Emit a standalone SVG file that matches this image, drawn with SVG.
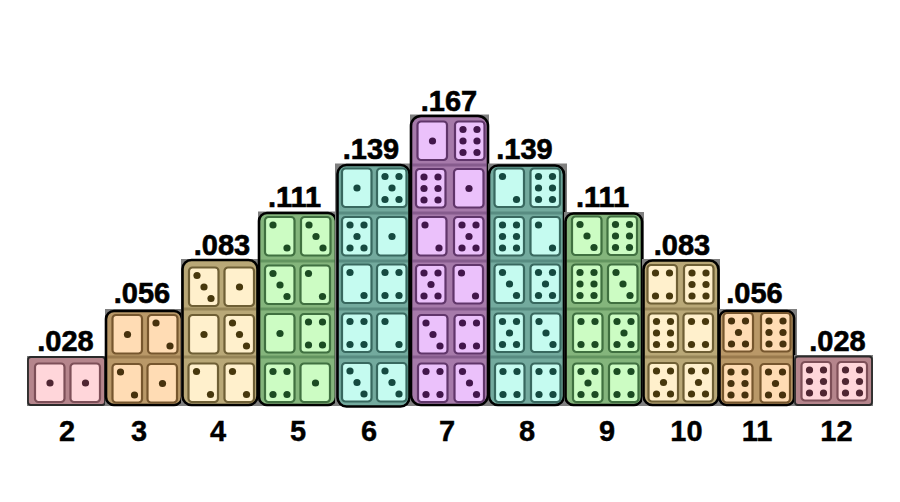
<svg xmlns="http://www.w3.org/2000/svg" width="900" height="502" viewBox="0 0 900 502">
<style>
.pink{--bg:#b5858c;--die:#ffd6da;--st:#7d5058;--pip:#4f2631}
.orange{--bg:#b99868;--die:#ffdcb4;--st:#76572f;--pip:#46300f}
.tan{--bg:#b9a877;--die:#fff0cc;--st:#6e5e35;--pip:#47380f}
.green{--bg:#84b57c;--die:#ccfcc3;--st:#3f6f40;--pip:#1c4b24}
.teal{--bg:#73aa9e;--die:#c5fbf0;--st:#38685f;--pip:#124a40}
.purple{--bg:#a67aaa;--die:#ebc1fb;--st:#60366a;--pip:#42184c}
.back{fill:#7f7f7f}
.body{fill:var(--bg);stroke:#000;stroke-width:2.6}
.thin{stroke:#2a2a2a;stroke-width:1.8}
.sep{stroke:var(--st);stroke-opacity:.45;stroke-width:3}
.b{fill:var(--die);stroke:var(--st);stroke-width:2.2}
.p{fill:var(--pip)}
.soft{filter:url(#soft)}
text{font-family:"Liberation Sans",Arial,sans-serif;font-weight:700;fill:#000;text-anchor:middle}
.pr{font-size:29px;stroke:#000;stroke-width:.6}
.ax{font-size:29px;stroke:#000;stroke-width:.4}
</style>
<defs>
<filter id="soft" x="-5%" y="-5%" width="110%" height="110%"><feGaussianBlur stdDeviation="0.7"/></filter>
<rect id="b" class="b" x="0" y="0" width="29.5" height="38.5" rx="3.5"/>
<g id="f1"><use href="#b"/><circle class="p" cx="15" cy="19.5" r="3.6"/></g>
<g id="f2"><use href="#b"/><circle class="p" cx="8" cy="8" r="3.6"/><circle class="p" cx="22" cy="31" r="3.6"/></g>
<g id="f3"><use href="#f2"/><circle class="p" cx="15" cy="19.5" r="3.6"/></g>
<g id="f4"><use href="#f2"/><circle class="p" cx="22" cy="8" r="3.6"/><circle class="p" cx="8" cy="31" r="3.6"/></g>
<g id="f5"><use href="#f4"/><circle class="p" cx="15" cy="19.5" r="3.6"/></g>
<g id="f6"><use href="#f4"/><circle class="p" cx="8" cy="19.5" r="3.6"/><circle class="p" cx="22" cy="19.5" r="3.6"/></g>
</defs>
<rect width="900" height="502" fill="#fff"/>
<g id="connectors"/>

<g id="col-2" class="pink"><rect class="back" x="27" y="356" width="79" height="50"/>
<g class="soft"><rect class="body thin" x="28" y="357" width="77" height="48" rx="3"/>
<use href="#f1" x="35" y="363.5"/><use href="#f1" x="70.5" y="363.5"/></g>
<text class="pr" x="65.500" y="351">.028</text><text class="ax" x="67" y="441">2</text></g>

<g id="col-3" class="orange"><rect class="back" x="105" y="309" width="78" height="97"/>
<g class="soft"><rect class="body" x="106" y="311" width="76" height="94" rx="8"/>
<line class="sep" x1="107" y1="357" x2="181" y2="357"/>
<use href="#f1" x="112.5" y="315"/><use href="#f2" x="148" y="315"/>
<use href="#f2" x="112.5" y="364"/><use href="#f1" x="147.5" y="364"/></g>
<text class="pr" x="142" y="303">.056</text><text class="ax" x="139" y="441">3</text></g>

<g id="col-4" class="tan"><rect class="back" x="181" y="259" width="78" height="147"/>
<g class="soft"><rect class="body" x="182.500" y="260" width="75" height="145" rx="9"/>
<line class="sep" x1="184" y1="309" x2="256" y2="309"/><line class="sep" x1="184" y1="357" x2="256" y2="357"/>
<use href="#f3" x="189" y="267.500"/><use href="#f1" x="224.500" y="267.500"/>
<use href="#f1" x="189" y="315"/><use href="#f3" x="224.500" y="315"/>
<use href="#f2" x="188.500" y="363.500"/><use href="#f2" x="224.500" y="363.500"/></g>
<text class="pr" x="222" y="255">.083</text><text class="ax" x="218" y="441">4</text></g>

<g id="col-5" class="green"><rect class="back" x="258" y="211.500" width="79" height="194.500"/>
<g class="soft"><rect class="body" x="259" y="213" width="77" height="192" rx="8"/>
<line class="sep" x1="260" y1="261" x2="335" y2="261"/><line class="sep" x1="260" y1="309" x2="335" y2="309"/><line class="sep" x1="260" y1="357" x2="335" y2="357"/>
<use href="#f2" x="265" y="217"/><use href="#f3" x="301" y="217"/>
<use href="#f3" x="265" y="265.500"/><use href="#f2" x="300.500" y="265.500"/>
<use href="#f1" x="265" y="314"/><use href="#f4" x="300.500" y="314"/>
<use href="#f4" x="265" y="363.500"/><use href="#f1" x="300.500" y="363.500"/></g>
<text class="pr" x="294.500" y="206.500">.111</text><text class="ax" x="298" y="441">5</text></g>

<g id="col-6" class="teal"><rect class="back" x="335" y="163.500" width="76" height="242.500"/>
<g class="soft"><rect class="body" x="337.500" y="165" width="72" height="241.500" rx="9"/>
<line class="sep" x1="339" y1="213" x2="408" y2="213"/><line class="sep" x1="339" y1="261" x2="408" y2="261"/><line class="sep" x1="339" y1="309" x2="408" y2="309"/><line class="sep" x1="339" y1="357" x2="408" y2="357"/>
<use href="#f1" x="342" y="168.500"/><use href="#f5" x="377" y="168.500"/>
<use href="#f5" x="342" y="217"/><use href="#f1" x="377" y="217"/>
<use href="#f2" x="342" y="264.500"/><use href="#f4" x="377" y="264.500"/>
<use href="#f4" x="342" y="313.500"/><use href="#f2" x="377" y="313.500"/>
<use href="#f3" x="342" y="363"/><use href="#f3" x="377" y="363"/></g>
<text class="pr" x="371" y="158.500">.139</text><text class="ax" x="369" y="441">6</text></g>

<g id="col-7" class="purple"><rect class="back" x="410" y="114.500" width="79" height="291.500"/>
<g class="soft"><rect class="body" x="411" y="116" width="77" height="289" rx="10"/>
<line class="sep" x1="412" y1="165" x2="487" y2="165"/><line class="sep" x1="412" y1="213" x2="487" y2="213"/><line class="sep" x1="412" y1="261" x2="487" y2="261"/><line class="sep" x1="412" y1="309" x2="487" y2="309"/><line class="sep" x1="412" y1="357" x2="487" y2="357"/>
<use href="#f1" x="417.500" y="121.500"/><use href="#f6" x="455" y="121.500"/>
<use href="#f6" x="416" y="169"/><use href="#f1" x="454" y="169"/>
<use href="#f2" x="417" y="217"/><use href="#f5" x="454" y="217"/>
<use href="#f5" x="416" y="265"/><use href="#f2" x="453.500" y="265"/>
<use href="#f3" x="418" y="315"/><use href="#f4" x="454.500" y="315"/>
<use href="#f4" x="418" y="363.500"/><use href="#f3" x="454.500" y="363.500"/></g>
<text class="pr" x="449" y="110.500">.167</text><text class="ax" x="447" y="441">7</text></g>

<g id="col-8" class="teal"><rect class="back" x="488" y="163.500" width="79" height="242.500"/>
<g class="soft"><rect class="body" x="489" y="165.500" width="75" height="239.500" rx="9"/>
<line class="sep" x1="490" y1="213" x2="563" y2="213"/><line class="sep" x1="490" y1="261" x2="563" y2="261"/><line class="sep" x1="490" y1="309" x2="563" y2="309"/><line class="sep" x1="490" y1="357" x2="563" y2="357"/>
<use href="#f2" x="494.500" y="168.500"/><use href="#f6" x="530.500" y="168.500"/>
<use href="#f6" x="494.500" y="217"/><use href="#f2" x="530.500" y="217"/>
<use href="#f3" x="494.500" y="264.500"/><use href="#f5" x="530.500" y="264.500"/>
<use href="#f5" x="494.500" y="313.500"/><use href="#f3" x="531" y="313.500"/>
<use href="#f4" x="495" y="363.500"/><use href="#f4" x="531" y="363.500"/></g>
<text class="pr" x="524.500" y="158.500">.139</text><text class="ax" x="527" y="441">8</text></g>

<g id="col-9" class="green"><rect class="back" x="564" y="212" width="80" height="194"/>
<g class="soft"><rect class="body" x="565.500" y="213.500" width="76.500" height="191.500" rx="8"/>
<line class="sep" x1="567" y1="261" x2="641" y2="261"/><line class="sep" x1="567" y1="309" x2="641" y2="309"/><line class="sep" x1="567" y1="357" x2="641" y2="357"/>
<use href="#f3" x="572" y="216.500"/><use href="#f6" x="607.500" y="216.500"/>
<use href="#f6" x="572" y="264.500"/><use href="#f3" x="608" y="264.500"/>
<use href="#f4" x="573" y="313.500"/><use href="#f5" x="609" y="313.500"/>
<use href="#f5" x="573" y="363.500"/><use href="#f4" x="609" y="363.500"/></g>
<text class="pr" x="602.500" y="206.500">.111</text><text class="ax" x="607" y="441">9</text></g>

<g id="col-10" class="tan"><rect class="back" x="642" y="259" width="78" height="147"/>
<g class="soft"><rect class="body" x="643.500" y="260.500" width="75" height="144.500" rx="9"/>
<line class="sep" x1="645" y1="309" x2="717" y2="309"/><line class="sep" x1="645" y1="357" x2="717" y2="357"/>
<use href="#f4" x="647.500" y="265"/><use href="#f6" x="684" y="265"/>
<use href="#f6" x="648.500" y="313.500"/><use href="#f4" x="683.500" y="313.500"/>
<use href="#f5" x="648.500" y="363"/><use href="#f5" x="683.500" y="363"/></g>
<text class="pr" x="682" y="255">.083</text><text class="ax" x="686.500" y="441">10</text></g>

<g id="col-11" class="orange"><rect class="back" x="719" y="309" width="78" height="97"/>
<g class="soft"><rect class="body" x="719.500" y="311" width="74.500" height="94" rx="7"/>
<line class="sep" x1="721" y1="357" x2="793" y2="357"/>
<use href="#f5" x="723.500" y="313"/><use href="#f6" x="761" y="313"/>
<use href="#f6" x="723" y="364"/><use href="#f5" x="760.500" y="364"/></g>
<text class="pr" x="754.500" y="303">.056</text><text class="ax" x="757" y="441">11</text></g>

<g id="col-12" class="pink"><rect class="back" x="794" y="355" width="79" height="51"/>
<g class="soft"><rect class="body thin" x="795" y="356.500" width="77" height="48.500" rx="3"/>
<use href="#f6" x="801.500" y="362"/><use href="#f6" x="837.500" y="362"/></g>
<text class="pr" x="837.500" y="351">.028</text><text class="ax" x="836.500" y="441">12</text></g>
</svg>
